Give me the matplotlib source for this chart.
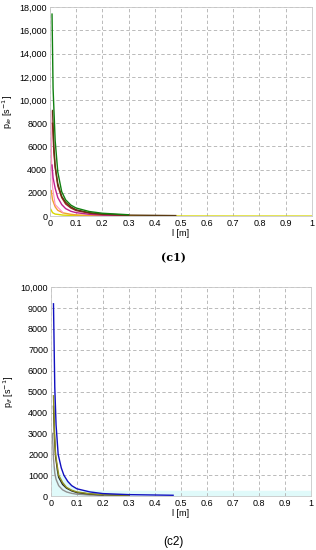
import numpy as np
import matplotlib.pyplot as plt
from matplotlib.ticker import FuncFormatter

# (c1) curves, p_ie against l
l_green = [0.008, 0.012, 0.02, 0.03, 0.045, 0.06, 0.08, 0.1, 0.15, 0.2, 0.3]
p_green = [17400, 11000, 6500, 3800, 2100, 1400, 950, 700, 400, 250, 120]
l_brown = [0.01, 0.015, 0.02, 0.03, 0.045, 0.06, 0.08, 0.1, 0.15, 0.2, 0.3, 0.48]
p_brown = [9100, 6000, 4300, 2800, 1700, 1200, 800, 550, 300, 180, 90, 50]
l_magenta = [0.008, 0.012, 0.02, 0.03, 0.045, 0.06, 0.08, 0.1, 0.15, 0.2, 0.3]
p_magenta = [4400, 3300, 2400, 1600, 1000, 650, 420, 300, 160, 90, 50]
l_black1 = [0.01, 0.015, 0.02, 0.03, 0.045, 0.06, 0.08, 0.1, 0.15, 0.2, 0.3]
p_black1 = [8000, 5500, 4200, 2600, 1600, 1050, 700, 480, 260, 150, 70]
l_orange = [0.005, 0.01, 0.02, 0.03, 0.05, 0.08, 0.1, 0.15, 0.2, 0.3, 0.48]
p_orange = [2200, 1400, 800, 500, 280, 160, 110, 60, 40, 25, 15]
l_yellow = [0.003, 0.01, 0.02, 0.05, 0.1, 0.2, 0.3, 0.5, 0.7, 1.0]
p_yellow = [600, 300, 180, 90, 50, 25, 18, 12, 10, 8]
l_pink = [0.004, 0.006, 0.01, 0.02, 0.05]
p_pink = [9000, 5000, 2500, 1000, 300]

# (c2) curves, p_if against l
l_blue = [0.01, 0.015, 0.02, 0.028, 0.04, 0.05, 0.065, 0.08, 0.1, 0.15, 0.2, 0.3, 0.47]
p_blue = [9200, 5200, 3400, 2000, 1350, 1000, 700, 500, 350, 200, 120, 70, 40]
l_olive = [0.01, 0.014, 0.018, 0.025, 0.03, 0.045, 0.06, 0.08, 0.1, 0.15, 0.2, 0.3]
p_olive = [4800, 3000, 2000, 1400, 1000, 650, 420, 280, 200, 110, 70, 40]
l_black2 = [0.01, 0.014, 0.018, 0.025, 0.03, 0.045, 0.06, 0.08, 0.1, 0.15, 0.2, 0.3]
p_black2 = [4300, 2800, 1900, 1250, 900, 560, 380, 250, 170, 95, 60, 35]
l_gray = [0.006, 0.01, 0.015, 0.02, 0.03, 0.045, 0.06, 0.08, 0.1, 0.15, 0.2]
p_gray = [3000, 1800, 1100, 800, 500, 300, 200, 130, 90, 50, 30]
l_cyan = [0.0, 0.005, 0.1, 0.3, 0.5, 1.0]
p_cyan = [3000, 1500, 300, 280, 280, 280]

plt.rcParams['font.family'] = ['Liberation Sans', 'DejaVu Sans']
plt.rcParams['font.size'] = 6.5


def comma(v, pos):
    return '{:,.0f}'.format(v) if v >= 10000 else '{:.0f}'.format(v)


fig = plt.figure(figsize=(3.16, 5.5), dpi=100)
ax1 = fig.add_axes([0.158, 0.607, 0.829, 0.38])
ax2 = fig.add_axes([0.161, 0.098, 0.823, 0.38])

ax1.plot(l_yellow, p_yellow, color='#d8d800', lw=1.0)
ax1.plot(l_orange, p_orange, color='#f0a030', lw=1.0)
ax1.plot(l_pink, p_pink, color='#ff90c0', lw=0.8)
ax1.plot(l_magenta, p_magenta, color='#c02090', lw=1.0)
ax1.plot(l_black1, p_black1, color='#a02020', lw=1.0)
ax1.plot(l_brown, p_brown, color='#5a3a10', lw=1.0)
ax1.plot(l_green, p_green, color='#108010', lw=1.0)
ax1.set_ylim(0, 18000)
ax1.set_yticks(np.arange(0, 18001, 2000))
ax1.set_ylabel('p$_{ie}$ [s$^{-1}$]')

ax2.fill_between(l_cyan, p_cyan, color='#e0fafa', lw=0)
ax2.plot(l_gray, p_gray, color='#909090', lw=1.0)
ax2.plot(l_black2, p_black2, color='#202020', lw=1.0)
ax2.plot(l_olive, p_olive, color='#909020', lw=1.0)
ax2.plot(l_blue, p_blue, color='#1010c0', lw=1.0)
ax2.set_ylim(0, 10000)
ax2.set_yticks(np.arange(0, 10001, 1000))
ax2.set_ylabel('p$_{if}$ [s$^{-1}$]')

for ax in (ax1, ax2):
    ax.set_xlim(0, 1)
    ax.set_xticks(np.arange(0, 1.01, 0.1))
    ax.set_xticklabels(['0', '0.1', '0.2', '0.3', '0.4', '0.5', '0.6', '0.7', '0.8', '0.9', '1'])
    ax.yaxis.set_major_formatter(FuncFormatter(comma))
    ax.yaxis.set_label_coords(-0.135, 0.5)
    ax.grid(True, ls=(0, (4, 3)), color='#b0b0b0', lw=0.6)
    ax.tick_params(length=0, pad=2)
    for s in ax.spines.values():
        s.set_color('#c8c8c8')
        s.set_linewidth(0.6)
    ax.set_xlabel('l [m]', labelpad=1)

fig.text(0.55, 0.531, '(c1)', ha='center', va='center', family='DejaVu Serif',
         fontweight='bold', fontsize=8)
fig.text(0.55, 0.014, '(c2)', ha='center', va='center', fontsize=8.5)

fig.savefig('out.png', dpi=100)
